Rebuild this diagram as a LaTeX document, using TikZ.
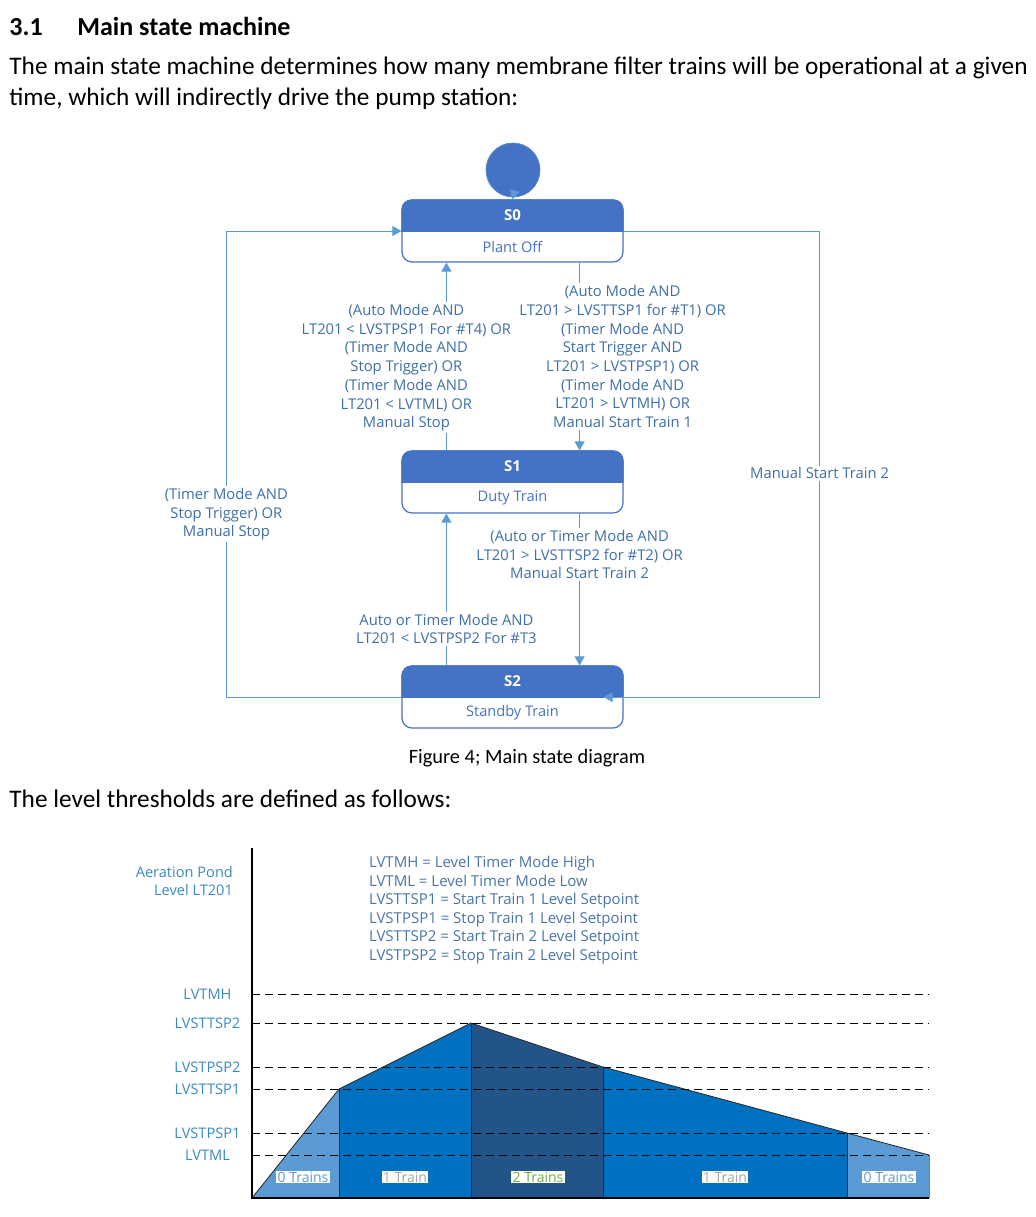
\documentclass[tikz,border=0pt]{standalone}
\usepackage{fontspec}
\setmainfont{Carlito}
\newfontfamily\diafont{Open Sans}
\usetikzlibrary{arrows.meta,calc}

\definecolor{hdrblue}{HTML}{4472C4}
\definecolor{lineblue}{HTML}{5B9BD5}
\definecolor{condtext}{HTML}{3E6FA8}
\definecolor{axislab}{HTML}{3A8AC0}
\definecolor{legtext}{HTML}{4A74A8}
\definecolor{zerofill}{HTML}{5B9BD5}
\definecolor{onefill}{HTML}{0070C0}
\definecolor{twofill}{HTML}{22548A}
\definecolor{onetext}{HTML}{A5A5A5}
\definecolor{twotext}{HTML}{70AD47}

\tikzset{
  bodytext/.style={anchor=base west, inner sep=0pt, font=\fontsize{12.65}{14}\selectfont},
  statebox/.style={draw=hdrblue, line width=0.6pt, rounded corners=5pt,
    minimum width=110.5pt, minimum height=31pt, inner sep=0pt},
  stname/.style={font=\diafont\bfseries\fontsize{7.5}{9}\selectfont, text=white},
  stdesc/.style={font=\diafont\fontsize{7.3}{9}\selectfont, text=hdrblue},
  initdot/.style={circle, fill=hdrblue, draw=hdrblue!85!white, minimum size=27pt, inner sep=0pt},
  conn/.style={draw=lineblue, line width=0.5pt, -{Triangle[width=5pt,length=4.5pt]}},
  cond/.style={font=\diafont\fontsize{7.4}{9.35}\selectfont, text=condtext, align=center,
    fill=white, inner sep=1pt},
  levlab/.style={font=\diafont\fontsize{7.3}{9}\selectfont, text=axislab},
  levline/.style={black, line width=0.5pt, dash pattern=on 4pt off 2.5pt},
  trainlab/.style={font=\diafont\fontsize{7}{9}\selectfont, fill=white, inner sep=0.6pt},
  region/.style={draw=black!85, line width=0.4pt}
}

\begin{document}
\begin{tikzpicture}[x=0.5pt,y=-0.5pt]
  \useasboundingbox (0,0) rectangle (1035,1217);

  % heading and text
  \node[bodytext, font=\bfseries\fontsize{13}{15}\selectfont] (secnum) at (9,35) {3.1};
  \node[bodytext, font=\bfseries\fontsize{13}{15}\selectfont] (sectitle) at (77,35) {Main state machine};
  \node[bodytext] (para1) at (9,74) {The main state machine determines how many membrane filter trains will be operational at a given};
  \node[bodytext] (para2) at (9,105) {time, which will indirectly drive the pump station:};

  % states
  \node[initdot] (init) at (513,170) {};
  \node[statebox] (s0) at (512.5,231) {};
  \node[statebox] (s1) at (512.5,482) {};
  \node[statebox] (s2) at (512.5,697) {};
  \foreach \s/\nm/\desc in {s0/S0/Plant Off, s1/S1/Duty Train, s2/S2/Standby Train}{
    \begin{scope}
      \clip (\s.north west) rectangle (\s.east);
      \fill[hdrblue, rounded corners=5pt] (\s.north west) rectangle (\s.south east);
    \end{scope}
    \node[stname] (\s-name) at ($(\s.north)!0.5!(\s.center)$) {\nm};
    \node[stdesc] (\s-desc) at ($(\s.south)!0.5!(\s.center)$) {\desc};
  }
  \draw[conn] (init.south) -- (s0.north);

  % transitions
  \draw[conn] ([xshift=22.5pt]s1.north west) -- node[cond, pos=0.44, xshift=-20pt] (c10)
    {(Auto Mode AND\\LT201 < LVSTPSP1 For \#T4) OR\\(Timer Mode AND\\Stop Trigger) OR\\(Timer Mode AND\\LT201 < LVTML) OR\\Manual Stop}
    ([xshift=22.5pt]s0.south west);
  \draw[conn] ([xshift=-22pt]s0.south east) -- node[cond, pos=0.5, xshift=21.5pt] (c01)
    {(Auto Mode AND\\LT201 > LVSTTSP1 for \#T1) OR\\(Timer Mode AND\\Start Trigger AND\\LT201 > LVSTPSP1) OR\\(Timer Mode AND\\LT201 > LVTMH) OR\\Manual Start Train 1}
    ([xshift=-22pt]s1.north east);
  \draw[conn] ([xshift=-22pt]s1.south east) -- node[cond, pos=0.27] (c12)
    {(Auto or Timer Mode AND\\LT201 > LVSTTSP2 for \#T2) OR\\Manual Start Train 2}
    ([xshift=-22pt]s2.north east);
  \draw[conn] ([xshift=22.5pt]s2.north west) -- node[cond, pos=0.24] (c21)
    {Auto or Timer Mode AND\\LT201 < LVSTPSP2 For \#T3}
    ([xshift=22.5pt]s1.south west);
  \draw[conn] (s2.west) -- ++(-175,0) |- node[cond, pos=0.196] (c20)
    {(Timer Mode AND\\Stop Trigger) OR\\Manual Stop} (s0.west);
  \draw[conn] (s0.east) -- ++(196,0) |- node[cond, pos=0.26] (c02)
    {Manual Start Train 2} ([xshift=-10pt]s2.east);

  \node[anchor=base, inner sep=0pt, font=\fontsize{10.2}{12}\selectfont] (caption) at (527,763) {Figure 4; Main state diagram};
  \node[bodytext] (para3) at (9,807) {The level thresholds are defined as follows:};

  % level chart
  \fill[zerofill] (252,1198) -- (339,1089) -- (339,1198) -- cycle;
  \fill[onefill] (339,1198) -- (339,1089) -- (471,1023) -- (471,1198) -- cycle;
  \fill[twofill] (471,1198) -- (471,1023) -- (603,1067) -- (603,1198) -- cycle;
  \fill[onefill] (603,1198) -- (603,1067) -- (847,1133) -- (847,1198) -- cycle;
  \fill[zerofill] (847,1198) -- (847,1133) -- (929,1155) -- (929,1198) -- cycle;
  \draw[region] (252,1198) -- (339,1089) -- (471,1023) -- (603,1067) -- (847,1133) -- (929,1155);
  \draw[region] (339,1198) -- (339,1089) (471,1198) -- (471,1023) (603,1198) -- (603,1067)
    (847,1198) -- (847,1133);
  \draw[black!50, line width=0.4pt] (929,1155) -- (929,1198);

  \foreach \lab/\yy in {LVTMH/994, LVSTTSP2/1023, LVSTPSP2/1067, LVSTTSP1/1089, LVSTPSP1/1133, LVTML/1155}{
    \node[levlab] (lev-\lab) at (207.5,\yy) {\lab};
    \draw[levline] (252,\yy) -- (929,\yy);
  }
  \draw[black, line width=0.7pt] (252,848) -- (252,1198) -- (929,1198);

  \node[levlab, align=right, anchor=east] (ylab) at (240,881) {Aeration Pond\\Level LT201};
  \node[levlab, text=legtext, align=left, anchor=north west, font=\diafont\fontsize{7.5}{9.3}\selectfont] (legend) at (362,849)
    {LVTMH = Level Timer Mode High\\LVTML = Level Timer Mode Low\\LVSTTSP1 = Start Train 1 Level Setpoint\\LVSTPSP1 = Stop Train 1 Level Setpoint\\LVSTTSP2 = Start Train 2 Level Setpoint\\LVSTPSP2 = Stop Train 2 Level Setpoint};

  \node[trainlab, text=zerofill] (t1) at (303,1177) {0 Trains};
  \node[trainlab, text=onetext] (t2) at (405,1177) {1 Train};
  \node[trainlab, text=twotext] (t3) at (538,1177) {2 Trains};
  \node[trainlab, text=onetext] (t4) at (725,1177) {1 Train};
  \node[trainlab, text=zerofill] (t5) at (889,1177) {0 Trains};
\end{tikzpicture}
\end{document}
